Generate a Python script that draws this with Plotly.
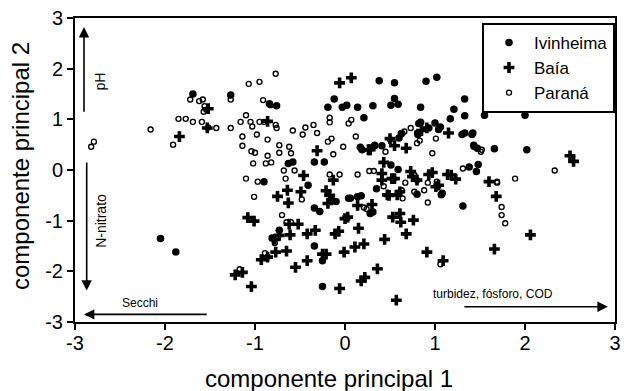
import plotly.graph_objects as go

# Ivinheima (filled circles)
ivi_x = [-1.69, -1.27, -2.05, -1.88, -0.76, -0.84, -0.58, -0.90, -0.41, -0.34, -0.23, -0.34, -0.28,
         -0.73, -0.81, -0.34, -0.25, -0.25, -0.19, -0.12, -0.03, 0.02, 0.14, 0.21, 0.31, 0.38, 0.55,
         0.55, 0.51, 0.59, 0.84, 0.90, 1.02, 1.33, 1.21, 1.17, 1.33, 1.55, 1.87, 2.00, 2.71, 2.02,
         1.66, 1.33, 1.42, 1.43, 1.47, 1.38, 1.48, 1.46, 1.31, 1.08, 1.00, 1.06, 0.84, 0.93, 0.81,
         0.60, 0.33, 0.19, 0.41, 0.51, 0.59, 0.35, 0.18, 0.06, 0.31, 0.80, -0.10, -0.15, 1.04, 0.17,
         0.04, 0.14, 0.28, 1.07, 0.82, -0.63, 0.63, 1.30, 1.41]
ivi_y = [1.50, 1.48, -1.35, -1.62, 1.27, 1.31, 0.16, -0.23, -0.30, 0.16, 0.16, -0.75, -0.82,
         -1.19, -1.34, -1.50, -1.79, -2.30, 1.24, 1.40, 1.24, 1.28, 1.24, 1.03, 1.27, 1.76, 1.72,
         1.41, 1.28, 1.30, 1.24, 1.75, 1.83, 1.40, 1.20, 1.01, 1.07, 1.08, 1.24, 1.08, 1.20, 0.40,
         0.42, 0.73, 0.73, 0.49, 0.43, 0.06, 0.11, -0.03, -0.71, -0.46, 0.93, 0.85, 0.94, 0.83, 0.70,
         0.63, 0.48, 0.40, 0.48, 0.10, 0.01, -0.37, -0.51, -0.56, -0.83, -0.48, -0.62, -0.58, 0.80, 0.45,
         -0.56, -0.53, -0.86, -0.49, 0.92, 0.13, 0.72, 0.70, 0.70]

# Baía (crosses)
bai_x = [-1.84, -1.52, -1.53, -0.86, -0.46, -0.75, -0.64, -0.63, -0.49, -1.08, -1.01, -0.62, -0.52,
         -0.73, -0.61, -0.42, -0.33, -0.78, -0.77, -0.65, -0.93, -0.86, -1.22, -1.14, -1.04, -0.55,
         -0.42, -0.25, -0.21, -0.31, -0.21, -0.17, -0.13, -0.07, -0.01, -0.06, 0.03, 0.11, 0.15, 0.21,
         0.14, -0.06, 0.07, 0.28, 0.43, 0.41, 0.41, 0.49, 0.55, 0.61, 0.50, 0.55, 0.68, 0.75, 0.80,
         0.91, 0.85, 1.15, 0.97, 1.04, 1.18, 1.23, 0.53, 0.61, 0.62, 0.76, 0.68, 0.44, 0.91, 1.09,
         0.36, 0.18, 0.22, 0.57, 1.60, 1.68, 1.66, 2.06, 2.50, 2.54, -0.19, 0.30, 0.26, 0.73, 0.93,
         1.14, 0.52, 0.47, 0.58, 1.01, 0.00, -0.11]
bai_y = [0.66, 1.21, 0.83, 0.96, -0.11, -0.52, -0.40, -0.65, -0.43, -0.94, -1.01, -1.07, -1.07,
         -1.29, -1.28, -1.26, -1.19, -1.37, -1.62, -1.60, -1.77, -1.72, -2.07, -2.02, -2.30, -1.92,
         -1.79, -1.66, -1.66, 0.38, -0.41, -0.50, -0.20, -1.21, -1.62, -2.34, -0.93, -1.52, -1.15, -1.46,
         -0.70, 1.72, 1.82, 0.40, 0.15, -0.07, -0.20, -0.50, -0.17, -0.43, 0.62, 0.48, 0.43, -0.13, -0.20,
         0.83, 0.78, 0.73, -0.05, -0.30, -0.10, -0.18, -0.93, -0.86, -1.03, -0.99, -1.26, -1.37, -1.62, -1.79,
         -1.95, -2.19, -2.12, -2.57, -0.23, -0.52, -1.56, -1.28, 0.28, 0.17, -0.66, -0.68, 0.40, -0.03, -0.09,
         -0.09, -0.17, -0.49, -0.49, -0.33, -0.96, -1.26]

# Paraná (open circles)
par_x = [-2.16, -2.82, -2.79, -1.91, -1.85, -1.77, -1.69, -1.72, -1.62, -1.58, -1.56, -1.54, -1.57,
         -1.59, -1.52, -1.43, -1.27, -1.27, -1.07, -0.95, -0.77, -0.91, -1.10, -1.16, -1.05, -1.03,
         -0.95, -0.90, -0.77, -0.76, -1.14, -0.98, -1.14, -1.04, -1.00, -0.86, -0.73, -0.73, -0.88,
         -0.82, -1.02, -0.86, -1.10, -0.97, -1.01, -0.68, -0.56, -0.66, -0.62, -0.60, -0.58, -0.47,
         -0.44, -0.35, -0.31, -0.48, -0.70, -0.65, -0.60, -0.78, -0.89, -0.86, -1.17, -0.19, -0.15,
         -0.17, -0.17, -0.13, -0.02, -0.17, -0.06, 0.07, 0.12, 0.14, 0.21, 0.24, 0.27, 0.32, 0.33,
         0.45, 0.43, 0.50, 0.66, 0.73, 0.80, 0.80, 0.97, 0.63, 0.64, 0.77, 0.80, 0.77, 0.88, 0.92,
         1.02, 1.06, 1.31, 1.43, 1.51, 1.69, 1.74, 1.74, 1.78, 1.89, 2.33, -0.83, 0.04, 0.62, 1.01,
         0.92, 0.67, 1.52, 1.69, 0.83]
par_y = [0.80, 0.46, 0.56, 0.50, 1.01, 1.01, 0.95, 1.39, 1.36, 1.39, 1.26, 1.19, 1.15,
         0.95, 0.84, 0.83, 1.39, 0.83, 1.70, 1.74, 1.90, 1.38, 1.08, 0.95, 0.95, 0.86,
         0.95, 0.95, 0.89, 0.83, 0.66, 0.70, 0.48, 0.37, 0.34, 0.60, 0.49, 0.34, 0.13,
         0.15, 0.13, 0.28, -0.17, -0.23, -0.53, -0.01, -0.01, -0.17, 0.46, 0.33, 0.78, 0.70,
         0.84, 0.89, 0.73, -0.58, -0.89, -1.03, -1.03, -1.44, -1.64, -1.71, -1.96, 0.56, 0.62,
         1.03, 0.94, 0.31, 0.46, -0.09, -0.09, 0.99, 0.66, -0.09, -0.74, -0.77, -0.02, -0.02, 0.50,
         0.36, -0.32, 0.60, 0.76, 0.83, 0.73, 0.53, 0.33, -0.40, -0.56, -0.10, -0.20, -0.43, -0.40, -0.64,
         -0.23, -1.86, 0.03, 0.46, 0.36, -0.23, -0.73, -0.89, -1.05, -0.17, -0.01, 1.28, 0.92, 0.72, 0.62,
         -0.25, -0.25, 0.40, -0.25, 0.58]

tick_vals = [-3, -2, -1, 0, 1, 2, 3]
tick_text = ["-3", "-2", "-1", "0", "1", "2", "3"]

fig = go.Figure()
fig.add_trace(go.Scatter(x=ivi_x, y=ivi_y, mode="markers", name="Ivinheima", legendgroup="a",
                         marker=dict(symbol="circle", size=7.5, color="black")))
fig.add_trace(go.Scatter(x=bai_x, y=bai_y, mode="markers", name="Baía", legendgroup="b",
                         marker=dict(symbol="cross", size=9, color="black", line=dict(width=0))))
fig.add_trace(go.Scatter(x=par_x, y=par_y, mode="markers", name="Paraná", legendgroup="c",
                         marker=dict(symbol="circle-open", size=5, color="black", line=dict(width=1.4))))

arrow = dict(xref="x", yref="y", axref="x", ayref="y", text="", showarrow=True,
             arrowhead=2, arrowsize=1.3, arrowwidth=1.6, arrowcolor="black")
annotations = [
    dict(arrow, x=-2.9, y=2.82, ax=-2.9, ay=1.12),
    dict(arrow, x=-2.87, y=-2.38, ax=-2.87, ay=0.18),
    dict(arrow, x=-2.9, y=-2.85, ax=-1.52, ay=-2.85),
    dict(arrow, x=2.92, y=-2.70, ax=1.31, ay=-2.70),
]
base = "Liberation Sans, Arial"
small = dict(family=base, size=12, color="black")
vert = dict(family=base, size=14, color="black")
annotations += [
    dict(xref="x", yref="y", x=-2.72, y=1.75, text="pH", showarrow=False, textangle=-90, font=vert),
    dict(xref="x", yref="y", x=-2.72, y=-1.0, text="N-nitrato", showarrow=False, textangle=-90, font=vert),
    dict(xref="x", yref="y", x=-2.28, y=-2.63, text="Secchi", showarrow=False, font=small),
    dict(xref="x", yref="y", x=1.64, y=-2.45, text="turbidez, fósforo, COD", showarrow=False, font=small),
    dict(xref="paper", yref="paper", x=(329 - 75) / 540, y=(322 - 378) / 304, xanchor="center",
         yanchor="middle", text="componente principal 1", showarrow=False,
         font=dict(family=base, size=24, color="black")),
    dict(xref="paper", yref="paper", x=(20 - 75) / 540, y=(322 - 166) / 304, xanchor="center",
         yanchor="middle", text="componente principal 2", showarrow=False, textangle=-90,
         font=dict(family=base, size=24, color="black")),
]

axis_common = dict(range=[-3, 3], tickvals=tick_vals, ticktext=tick_text, showline=True,
                   linecolor="black", linewidth=2, mirror=True, automargin=False,
                   ticks="outside", ticklen=6, tickwidth=2, tickcolor="black", showgrid=False,
                   zeroline=False, tickfont=dict(family=base, size=20, color="black"))

fig.update_layout(
    width=624, height=391,
    margin=dict(l=75, r=9, t=18, b=69),
    plot_bgcolor="white", paper_bgcolor="white",
    font=dict(family=base, color="black"),
    xaxis=dict(axis_common, ticklabelstandoff=-4),
    yaxis=dict(axis_common),
    legend=dict(x=1.0, y=0.984, xanchor="right", yanchor="top", bgcolor="white",
                bordercolor="black", borderwidth=2, tracegroupgap=0, itemwidth=40,
                font=dict(family=base, size=17, color="black")),
    annotations=annotations,
    showlegend=True,
)

fig.write_html("out.html", config={"displayModeBar": False},
               post_script="document.body.style.margin='0';")
